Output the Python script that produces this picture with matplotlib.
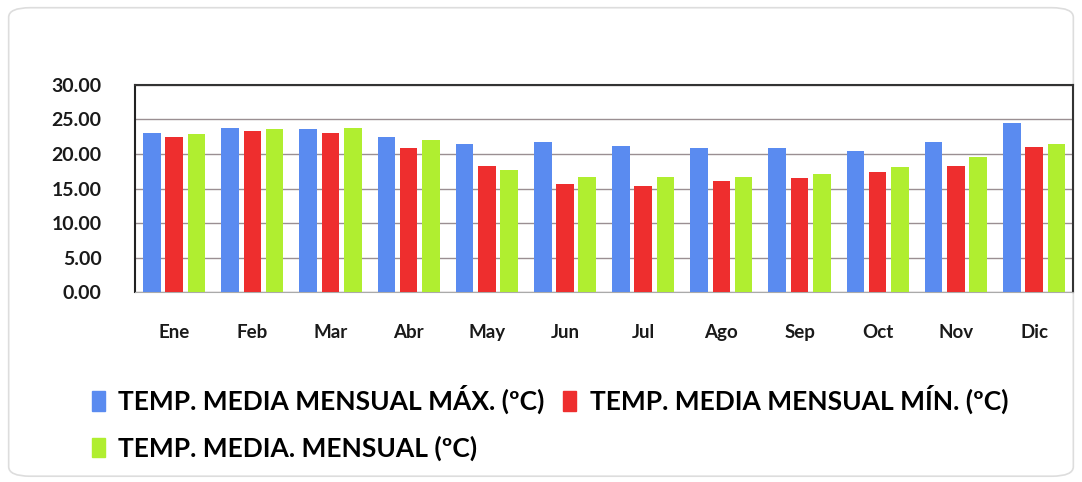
import matplotlib.pyplot as plt
import numpy as np
from matplotlib.patches import FancyBboxPatch, Patch

months = ["Ene", "Feb", "Mar", "Abr", "May", "Jun", "Jul", "Ago", "Sep", "Oct", "Nov", "Dic"]
t_max = [23.1, 23.7, 23.6, 22.5, 21.5, 21.8, 21.1, 20.8, 20.8, 20.5, 21.8, 24.5]
t_min = [22.4, 23.3, 23.1, 20.9, 18.2, 15.6, 15.4, 16.1, 16.5, 17.4, 18.2, 21.0]
t_med = [22.9, 23.6, 23.7, 22.0, 17.7, 16.7, 16.6, 16.6, 17.1, 18.1, 19.6, 21.5]
labels = ["TEMP. MEDIA MENSUAL MÁX. (ºC)", "TEMP. MEDIA MENSUAL MÍN. (ºC)", "TEMP. MEDIA. MENSUAL (ºC)"]
colors = ["#5A8BF0", "#EE2E2E", "#B0EE30"]

plt.rcParams["font.family"] = ["Lato", "DejaVu Sans"]

fig = plt.figure(figsize=(10.82, 4.82), dpi=100)
border = FancyBboxPatch((0.008, 0.012), 0.984, 0.972, boxstyle="round,pad=0,rounding_size=0.02",
                        transform=fig.transFigure, facecolor="white", edgecolor="#dddddd", lw=1.2, zorder=-5)
fig.patches.append(border)
ax = fig.add_axes([0.1248, 0.394, 0.867, 0.4297])
ax.patch.set_alpha(0)

xs = np.arange(len(months))
w = 0.225
off = 0.285
for i, (vals, c, lab) in enumerate(zip([t_max, t_min, t_med], colors, labels)):
    ax.bar(xs + (i - 1) * off, vals, width=w, color=c, label=lab, zorder=3)

ax.set_xlim(-0.5, len(months) - 0.5)
ax.set_ylim(0, 30)
ax.set_yticks(np.arange(0, 31, 5))
ax.set_yticklabels([f"{v:.2f}" for v in np.arange(0, 31, 5)], fontsize=14, fontweight="bold", color="#1a1a1a")
ax.set_xticks(xs)
ax.set_xticklabels(months, fontsize=13.5, fontweight="bold", color="#1a1a1a")
ax.tick_params(axis="both", length=0)
ax.tick_params(axis="y", pad=24)
ax.tick_params(axis="x", pad=23)
ax.yaxis.grid(True, color="#9a8f92", lw=1.0, zorder=0)
ax.set_axisbelow(True)
ax.spines["left"].set_color("#222222")
ax.spines["left"].set_linewidth(1.5)
ax.spines["top"].set_color("#333333")
ax.spines["top"].set_linewidth(1.5)
ax.spines["right"].set_color("#333333")
ax.spines["right"].set_linewidth(1.5)
ax.spines["bottom"].set_color("#aaaaaa")

handles = [Patch(color=colors[0]), Patch(color=colors[2]), Patch(color=colors[1])]
fig.legend(handles, [labels[0], labels[2], labels[1]], ncol=2, loc="upper left",
           bbox_to_anchor=(0.063, 0.25), frameon=False, handlelength=0.5,
           handleheight=0.75, handletextpad=0.5, columnspacing=0.7, labelspacing=0.8,
           prop={"size": 19, "weight": "bold"})

fig.savefig("out.png", dpi=100)
